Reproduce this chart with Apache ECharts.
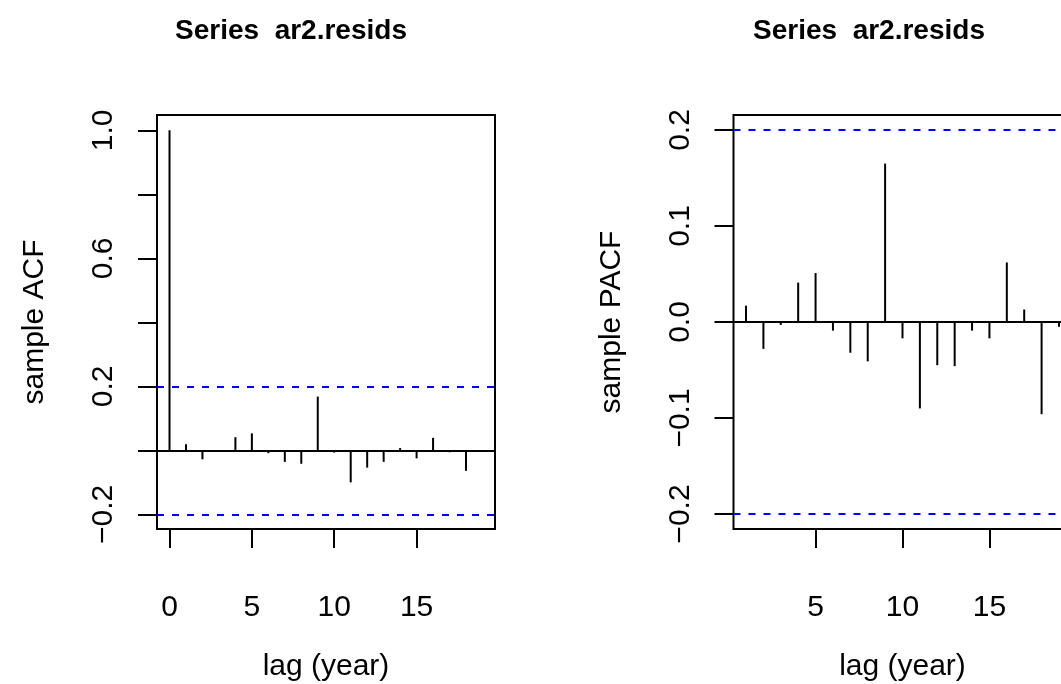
<!DOCTYPE html>
<html>
<head>
<meta charset="utf-8">
<script src="https://cdn.jsdelivr.net/npm/echarts@6/dist/echarts.min.js"></script>
<style>html,body{margin:0;padding:0;background:#fff}#c{width:1061px;height:684px}</style>
</head>
<body>
<div id="c"></div>
<script>
// ---- data ----
const titleText = 'Series  ar2.resids';
const xLabel = 'lag (year)';
const acfLags = [0,1,2,3,4,5,6,7,8,9,10,11,12,13,14,15,16,17,18,19];
const acfValues = [1.0,0.019,-0.028,-0.004,0.041,0.053,-0.009,-0.036,-0.042,0.168,-0.007,-0.100,-0.054,-0.036,0.007,-0.025,0.039,-0.006,-0.064,-0.003];
const pacfLags = [1,2,3,4,5,6,7,8,9,10,11,12,13,14,15,16,17,18,19];
const pacfValues = [0.017,-0.028,-0.003,0.041,0.051,-0.009,-0.032,-0.041,0.165,-0.017,-0.090,-0.045,-0.046,-0.009,-0.017,0.062,0.013,-0.096,-0.005];
const ciLimit = 0.198;
const acfXTicks = [0,5,10,15];
const pacfXTicks = [5,10,15];
const acfYTicks = [-0.2,0,0.2,0.4,0.6,0.8,1.0];
const acfYLabels = [-0.2,0.2,0.6,1.0];
const pacfYTicks = [-0.2,-0.1,0,0.1,0.2];
const pacfYLabels = [-0.2,-0.1,0,0.1,0.2];

const FONT = 'Liberation Sans, Arial, Helvetica, sans-serif';
const FS = 30;
const fmtY = v => (Math.round(v*10)/10).toFixed(1).replace('-', '\u2212');

function spikeRender(params, api) {
  const p0 = api.coord([api.value(0), 0]);
  const p1 = api.coord([api.value(0), api.value(1)]);
  return {type:'line', shape:{x1:p0[0], y1:p0[1], x2:p1[0], y2:p1[1]},
          style:{stroke:'#000', lineWidth:2}};
}
function refLines() {
  return {
    silent:true, symbol:['none','none'], label:{show:false},
    data:[
      {yAxis:0, lineStyle:{color:'#000', type:'solid', width:2}},
      {yAxis:ciLimit, lineStyle:{color:'#0000ff', type:[7,8], width:2}},
      {yAxis:-ciLimit, lineStyle:{color:'#0000ff', type:[7,8], width:2}}
    ]
  };
}
function xAxisCfg(idx, min, max, ticks) {
  return {
    type:'value', gridIndex:idx, min:min, max:max,
    name:xLabel, nameLocation:'middle', nameGap:123,
    nameTextStyle:{fontFamily:FONT, fontSize:FS, color:'#000'},
    axisLine:{show:false, onZero:false}, splitLine:{show:false},
    axisTick:{show:true, inside:false, length:19, lineStyle:{color:'#000', width:2}, customValues:ticks},
    axisLabel:{show:true, margin:64, fontFamily:FONT, fontSize:FS, color:'#000', customValues:ticks, formatter:v=>String(v)}
  };
}
function yAxisCfg(idx, min, max, ticks, labels, name) {
  return {
    type:'value', gridIndex:idx, min:min, max:max,
    name:name, nameLocation:'middle', nameGap:107, nameRotate:90,
    nameTextStyle:{fontFamily:FONT, fontSize:FS, color:'#000'},
    axisLine:{show:false, onZero:false}, splitLine:{show:false},
    axisTick:{show:true, inside:false, length:19, lineStyle:{color:'#000', width:2}, customValues:ticks},
    axisLabel:{show:true, rotate:90, margin:38, fontFamily:FONT, fontSize:FS, color:'#000', customValues:labels, formatter:fmtY}
  };
}

const chart = echarts.init(document.getElementById('c'), null, {renderer:'canvas'});
chart.setOption({
  backgroundColor:'#fff',
  animation:false,
  title:[
    {text:titleText, left:286, top:12, textAlign:'center', textStyle:{fontFamily:FONT, fontSize:28, fontWeight:'bold', color:'#000'}},
    {text:titleText, left:864, top:12, textAlign:'center', textStyle:{fontFamily:FONT, fontSize:28, fontWeight:'bold', color:'#000'}}
  ],
  grid:[
    {left:157, top:115, width:338, height:414, outerBoundsMode:'none', containLabel:false, show:true, borderColor:'#000', borderWidth:2, backgroundColor:'transparent'},
    {left:733.5, top:115, width:338, height:414, outerBoundsMode:'none', containLabel:false, show:true, borderColor:'#000', borderWidth:2, backgroundColor:'transparent'}
  ],
  xAxis:[
    xAxisCfg(0, -0.76, 19.76, acfXTicks),
    xAxisCfg(1, 0.28, 19.72, pacfXTicks)
  ],
  yAxis:[
    yAxisCfg(0, -0.2458, 1.0478, acfYTicks, acfYLabels, 'sample ACF'),
    yAxisCfg(1, -0.2156, 0.2156, pacfYTicks, pacfYLabels, 'sample PACF')
  ],
  series:[
    {type:'custom', xAxisIndex:0, yAxisIndex:0, renderItem:spikeRender, encode:{x:0,y:1},
     data:acfLags.map((l,i)=>[l, acfValues[i]]), markLine:refLines(), z:3},
    {type:'custom', xAxisIndex:1, yAxisIndex:1, renderItem:spikeRender, encode:{x:0,y:1},
     data:pacfLags.map((l,i)=>[l, pacfValues[i]]), markLine:refLines(), z:3}
  ]
});
</script>
</body>
</html>
